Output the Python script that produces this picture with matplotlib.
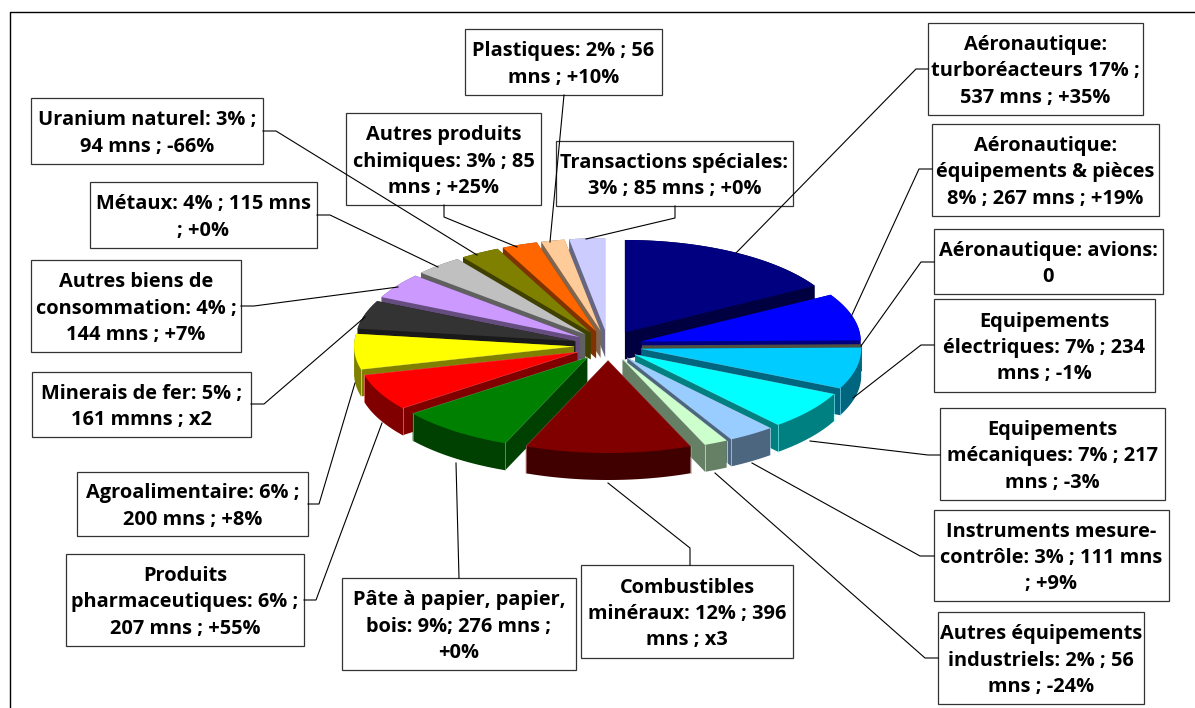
"""
Exploded 3D-look pie of exports by product, with boxed labels and leader lines.
"""
import matplotlib
matplotlib.use("Agg")
import matplotlib.pyplot as plt
from matplotlib.patches import Polygon, Rectangle
from matplotlib.colors import to_rgb
import numpy as np

WIDTH = 1195
HEIGHT = 708

# Data, clockwise from 12 o'clock
products = ["Aéronautique: turboréacteurs", "Aéronautique: équipements & pièces", "Aéronautique: avions",
            "Equipements électriques", "Equipements mécaniques", "Instruments mesure-contrôle",
            "Autres équipements industriels", "Combustibles minéraux", "Pâte à papier, papier, bois",
            "Produits pharmaceutiques", "Agroalimentaire", "Minerais de fer",
            "Autres biens de consommation", "Métaux", "Uranium naturel",
            "Autres produits chimiques", "Plastiques", "Transactions spéciales"]
values = [537, 267, 0, 234, 217, 111, 56, 396, 276, 207, 200, 161, 144, 115, 94, 85, 56, 85]

labels = [
    ["Aéronautique:", "turboréacteurs 17% ;", "537 mns ; +35%"],
    ["Aéronautique:", "équipements & pièces", "8% ; 267 mns ; +19%"],
    ["Aéronautique: avions:", "0"],
    ["Equipements", "électriques: 7% ; 234", "mns ; -1%"],
    ["Equipements", "mécaniques: 7% ; 217", "mns ; -3%"],
    ["Instruments mesure-", "contrôle: 3% ; 111 mns", "; +9%"],
    ["Autres équipements", "industriels: 2% ; 56", "mns ; -24%"],
    ["Combustibles", "minéraux: 12% ; 396", "mns ; x3"],
    ["Pâte à papier, papier,", "bois: 9%; 276 mns ;", "+0%"],
    ["Produits", "pharmaceutiques: 6% ;", "207 mns ; +55%"],
    ["Agroalimentaire: 6% ;", "200 mns ; +8%"],
    ["Minerais de fer: 5% ;", "161 mmns ; x2"],
    ["Autres biens de", "consommation: 4% ;", "144 mns ; +7%"],
    ["Métaux: 4% ; 115 mns", "; +0%"],
    ["Uranium naturel: 3% ;", "94 mns ; -66%"],
    ["Autres produits", "chimiques: 3% ; 85", "mns ; +25%"],
    ["Plastiques: 2% ; 56", "mns ; +10%"],
    ["Transactions spéciales:", "3% ; 85 mns ; +0%"],
]

colors = ["#000080", "#0000FF", "#A0A080", "#00CCFF", "#00FFFF", "#99CCFF", "#CCFFCC", "#800000", "#008000",
          "#FF0000", "#FFFF00", "#333333", "#CC99FF", "#C0C0C0", "#808000", "#FF6600", "#FFCC99", "#CCCCFF"]

# Layout, in picture pixels: label boxes (left, top, right, bottom)
boxes = [(928, 23, 1143, 115), (932, 124, 1159, 216), (934, 229, 1163, 294), (934, 299, 1155, 392),
         (940, 408, 1165, 500), (934, 510, 1169, 601), (938, 612, 1144, 704), (581, 565, 793, 658),
         (342, 578, 576, 670), (66, 554, 304, 646), (77, 472, 308, 536), (32, 372, 251, 437),
         (31, 260, 241, 352), (90, 182, 317, 248), (31, 98, 263, 164), (346, 113, 541, 205),
         (465, 29, 662, 95), (556, 141, 793, 206)]

leaders = [
    [(928, 69), (916, 69), (736, 253)],
    [(932, 169), (919, 169), (851, 317)],
    [(934, 262), (921, 262), (861, 346)],
    [(934, 345), (921, 345), (853, 398)],
    [(940, 455), (928, 455), (810, 441)],
    [(934, 556), (920, 556), (752, 463)],
    [(938, 658), (925, 658), (715, 473)],
    [(690, 565), (690, 548), (608, 483)],
    [(459, 578), (456, 463)],
    [(304, 600), (316, 600), (382, 423)],
    [(308, 504), (319, 504), (355, 383)],
    [(251, 404), (264, 404), (365, 317)],
    [(241, 306), (254, 306), (398, 287)],
    [(317, 215), (330, 215), (438, 267)],
    [(263, 131), (276, 131), (477, 255)],
    [(444, 205), (444, 217), (517, 247)],
    [(564, 95), (550, 242)],
    [(675, 206), (675, 218), (586, 239)],
]

CENTER_X = 608
CENTER_Y = 345.5
RADIUS_X = 220
RADIUS_Y = 92.5
EXPLODE_X = 34
EXPLODE_Y = 15
WALL = 27
LINE_STEP = 26.3
FONT = "Open Sans"
FONT_SIZE = 14.4


def darken(color, factor=0.5):
    """Colour of the side walls"""
    return tuple(c * factor for c in to_rgb(color))


def lighten(color, factor=0.55):
    """Colour of the thin highlight on the wall corners"""
    return tuple(c + (1 - c) * factor for c in to_rgb(color))


def convex_hull(points):
    """Monotone chain hull, used to sweep a slice down into its walls"""
    pts = sorted(set(map(tuple, points)))

    def half(seq):
        out = []
        for p in seq:
            while len(out) > 1 and (out[-1][0] - out[-2][0]) * (p[1] - out[-2][1]) \
                    - (out[-1][1] - out[-2][1]) * (p[0] - out[-2][0]) <= 0:
                out.pop()
            out.append(p)
        return out[:-1]

    return half(pts) + half(pts[::-1])


def draw_slice(ax, start, end, color):
    """Draws one slice as a swept wall and a top face"""
    mid = (start + end) / 2
    apex_x = CENTER_X + EXPLODE_X * np.sin(mid)
    apex_y = CENTER_Y - EXPLODE_Y * np.cos(mid)
    angles = np.linspace(start, end, 60)
    xs = apex_x + RADIUS_X * np.sin(angles)
    ys = apex_y - RADIUS_Y * np.cos(angles)
    top = [(apex_x, apex_y)] + list(zip(xs, ys))
    bottom = [(x, y + WALL) for x, y in top]
    ax.add_patch(Polygon(convex_hull(top + bottom), closed=True, facecolor=darken(color), edgecolor="none"))
    ax.add_patch(Polygon(top, closed=True, facecolor=color, edgecolor="none"))

    # Thin highlights on the corners that face the viewer
    for a in (start, end):
        if np.cos(a) < 0:
            cx = apex_x + RADIUS_X * np.sin(a)
            cy = apex_y - RADIUS_Y * np.cos(a)
            ax.plot([cx, cx], [cy, cy + WALL], color=lighten(color), lw=0.6, alpha=0.7)
            ax.plot([apex_x, cx], [apex_y, cy], color=lighten(color), lw=0.4, alpha=0.5)


def main():
    fig = plt.figure(figsize=(WIDTH / 100, HEIGHT / 100), dpi=100)
    ax = fig.add_axes([0, 0, 1, 1])
    ax.set_xlim(0, WIDTH)
    ax.set_ylim(HEIGHT, 0)
    ax.axis("off")

    # Outer frame, only the top and left sides are in the picture
    ax.plot([10, 10, WIDTH], [HEIGHT, 12, 12], color="black", lw=1.0)

    # Slices, from the back to the front
    edges = np.cumsum([0] + values) / np.sum(values) * 2 * np.pi
    mids = (edges[:-1] + edges[1:]) / 2
    for i in np.argsort(-np.cos(mids)):
        draw_slice(ax, edges[i], edges[i + 1], colors[i])

    for box, lines in zip(boxes, labels):
        x0, y0, x1, y1 = box
        ax.add_patch(Rectangle((x0, y0), x1 - x0, y1 - y0, facecolor="white", edgecolor="#333333", lw=0.9, zorder=5))
        mid_y = (y0 + y1) / 2
        for k, line in enumerate(lines):
            ax.text((x0 + x1) / 2, mid_y + (k - (len(lines) - 1) / 2) * LINE_STEP, line, ha="center", va="center_baseline",
                    family=FONT, weight="bold", size=FONT_SIZE, color="black", zorder=7)

    # Leader lines run over the boxes
    for line in leaders:
        xs, ys = zip(*line)
        ax.plot(xs, ys, color="black", lw=0.8, solid_joinstyle="miter", zorder=6)

    fig.savefig("out.png", dpi=100)


if __name__ == '__main__':
    main()
